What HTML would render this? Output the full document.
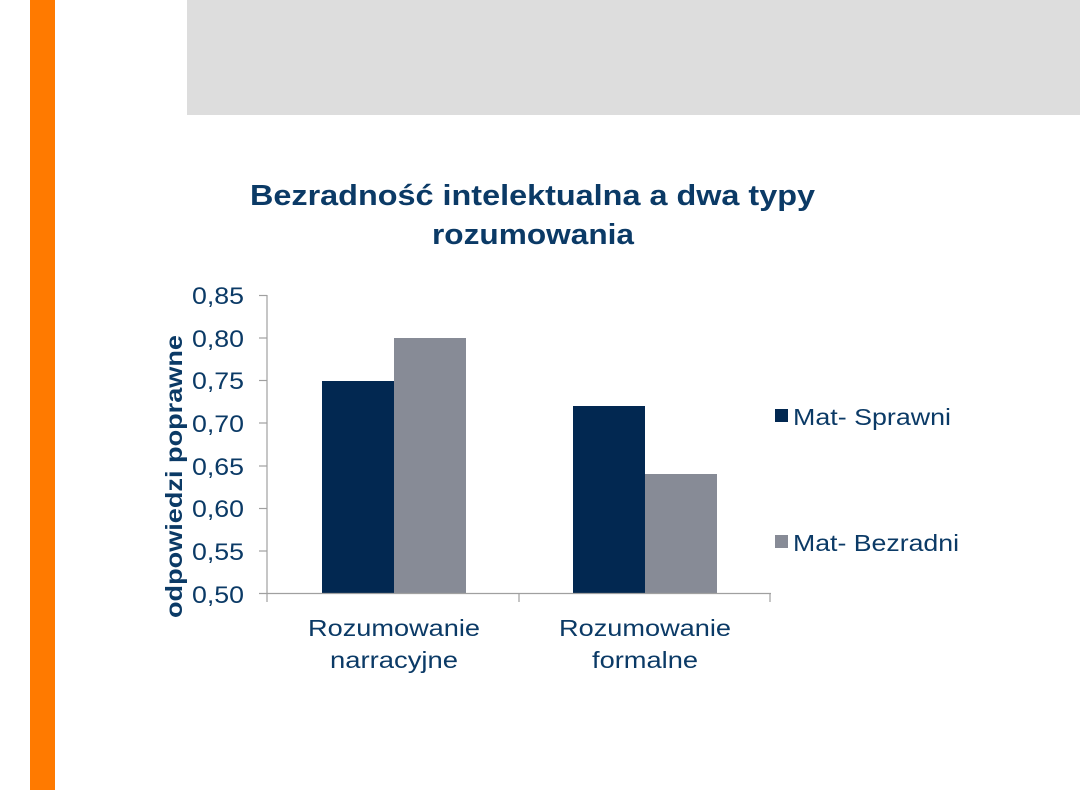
<!DOCTYPE html>
<html><head><meta charset="utf-8"><style>
body{margin:0;background:#fff;}
</style></head><body>
<svg width="1080" height="810" xmlns="http://www.w3.org/2000/svg" style="display:block">
<rect x="0" y="0" width="1080" height="810" fill="#fff"/>
<rect x="30" y="0" width="25" height="790" fill="#ff7a00"/>
<rect x="187" y="0" width="893" height="115" fill="#dddddd"/>
<g font-family="Liberation Sans, Arial, sans-serif" fill="#0b3a66">
<text x="250" y="205" font-size="29" font-weight="bold" textLength="565" lengthAdjust="spacingAndGlyphs">Bezradność intelektualna a dwa typy</text>
<text x="432" y="244" font-size="29" font-weight="bold" textLength="202" lengthAdjust="spacingAndGlyphs">rozumowania</text>
<text transform="translate(182,618) rotate(-90)" font-size="23" font-weight="bold" textLength="283" lengthAdjust="spacingAndGlyphs">odpowiedzi poprawne</text>
<g font-size="24">
<text x="192" y="304" textLength="52" lengthAdjust="spacingAndGlyphs">0,85</text>
<text x="192" y="347" textLength="52" lengthAdjust="spacingAndGlyphs">0,80</text>
<text x="192" y="389" textLength="52" lengthAdjust="spacingAndGlyphs">0,75</text>
<text x="192" y="432" textLength="52" lengthAdjust="spacingAndGlyphs">0,70</text>
<text x="192" y="475" textLength="52" lengthAdjust="spacingAndGlyphs">0,65</text>
<text x="192" y="517" textLength="52" lengthAdjust="spacingAndGlyphs">0,60</text>
<text x="192" y="560" textLength="52" lengthAdjust="spacingAndGlyphs">0,55</text>
<text x="192" y="603" textLength="52" lengthAdjust="spacingAndGlyphs">0,50</text>
</g>
<g font-size="23">
<text x="308" y="636" textLength="172" lengthAdjust="spacingAndGlyphs">Rozumowanie</text>
<text x="330" y="668" textLength="128" lengthAdjust="spacingAndGlyphs">narracyjne</text>
<text x="559" y="636" textLength="172" lengthAdjust="spacingAndGlyphs">Rozumowanie</text>
<text x="592" y="668" textLength="106" lengthAdjust="spacingAndGlyphs">formalne</text>
</g>
<text x="793" y="425" font-size="23" textLength="158" lengthAdjust="spacingAndGlyphs">Mat- Sprawni</text>
<text x="793" y="551" font-size="23" textLength="166" lengthAdjust="spacingAndGlyphs">Mat- Bezradni</text>
</g>
<rect x="322" y="381" width="72" height="212" fill="#022851"/>
<rect x="394" y="338" width="72" height="255" fill="#878b96"/>
<rect x="573" y="406" width="72" height="187" fill="#022851"/>
<rect x="645" y="474" width="72" height="119" fill="#878b96"/>
<rect x="775" y="409" width="13" height="13" fill="#022851"/>
<rect x="775" y="535" width="13" height="13" fill="#878b96"/>
<g stroke="#a0a0a0" stroke-width="1.2" fill="none">
<line x1="267" y1="295" x2="267" y2="602"/>
<line x1="259" y1="593.5" x2="771" y2="593.5"/>
<line x1="259" y1="295.5" x2="267" y2="295.5"/>
<line x1="259" y1="338" x2="267" y2="338"/>
<line x1="259" y1="380.5" x2="267" y2="380.5"/>
<line x1="259" y1="423" x2="267" y2="423"/>
<line x1="259" y1="466" x2="267" y2="466"/>
<line x1="259" y1="508.5" x2="267" y2="508.5"/>
<line x1="259" y1="551" x2="267" y2="551"/>
<line x1="519" y1="593" x2="519" y2="602"/>
<line x1="770" y1="593" x2="770" y2="602"/>
</g>
</svg>
</body></html>
